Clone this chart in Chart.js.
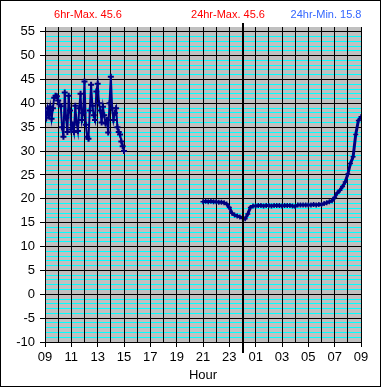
<!DOCTYPE html>
<html>
<head>
<meta charset="utf-8">
<script src="https://cdn.jsdelivr.net/npm/chart.js@4"></script>
<style>
  html, body { margin: 0; padding: 0; background: #fff; }
</style>
</head>
<body>
<canvas id="tempChart" width="385" height="388"></canvas>
<script>
// hours since 09:00
const dayHours = [0.0,0.1,0.2,0.3,0.4,0.5,0.6,0.7,0.8,0.9,1.0,1.1,1.2,1.3,1.4,1.5,1.6,1.7,1.8,1.9,
    2.0,2.1,2.2,2.3,2.4,2.5,2.6,2.7,2.8,2.9,3.0,3.1,3.2,3.3,3.4,3.5,3.6,3.7,3.8,3.9,
    4.0,4.1,4.2,4.3,4.4,4.5,4.6,4.7,4.8,4.9,5.0,5.1,5.2,5.3,5.4,5.5,5.6,5.7,5.8,5.9,6.0];
const dayTemps = [38.2,37.0,39.0,37.5,39.3,36.8,39.0,41.2,41.6,41.5,
    40.6,39.8,39.4,35.0,33.0,42.3,37.0,34.0,41.6,38.5,
    34.5,35.5,34.0,39.5,36.0,34.2,39.0,42.0,36.5,38.0,
    44.6,35.5,33.0,32.6,38.5,43.9,39.5,37.5,36.5,42.5,
    44.1,40.0,38.5,36.0,39.3,37.5,35.8,36.5,33.9,40.0,
    45.6,39.0,36.5,38.0,39.0,35.0,34.0,33.5,32.0,31.0,
    30.0];
const nightHours = [12.0,12.2,12.4,12.6,12.8,13.0,13.2,13.4,13.6,13.8,
    14.0,14.2,14.4,14.6,14.8,15.0,15.2,15.4,15.6,15.8,
    16.0,16.2,16.4,16.6,16.8,17.0,17.2,17.4,17.6,17.8,
    18.0,18.2,18.4,18.6,18.8,19.0,19.2,19.4,19.6,19.8,
    20.0,20.2,20.4,20.6,20.8,21.0,21.2,21.4,21.6,21.8,
    22.0,22.2,22.4,22.6,22.8,23.0,23.2,23.4,23.6,23.8,24.0];
const nightTemps = [19.4,19.5,19.4,19.5,19.4,19.4,19.3,19.3,19.2,18.9,
    18.2,17.0,16.6,16.4,16.2,16.0,15.8,16.8,18.2,18.5,
    18.5,18.6,18.6,18.5,18.6,18.6,18.5,18.6,18.6,18.6,
    18.5,18.6,18.6,18.6,18.5,18.4,18.7,18.7,18.7,18.7,
    18.7,18.7,18.8,18.7,18.8,18.8,19.0,19.2,19.4,19.6,
    20.3,21.2,21.8,22.6,23.5,25.2,27.4,28.8,33.5,36.4,
    37.2];
const hourLabels = ['09','10','11','12','13','14','15','16','17','18','19','20','21',
    '22','23','00','01','02','03','04','05','06','07','08','09'];
const summaryTexts = ['6hr-Max. 45.6', '24hr-Max. 45.6', '24hr-Min. 15.8'];

function toPoints(xs, ys) {
    return xs.map(function(x, i) { return { x: x, y: ys[i] }; });
}

const plotBackground = {
    id: 'plotBackground',
    beforeDraw: function(chart) {
        const a = chart.chartArea;
        const ctx = chart.ctx;
        ctx.save();
        ctx.fillStyle = '#c0c0c0';
        ctx.fillRect(a.left, a.top, a.right - a.left, a.bottom - a.top);
        ctx.restore();
    }
};

const extras = {
    id: 'extras',
    afterDatasetsDraw: function(chart) {
        const ctx = chart.ctx;
        const a = chart.chartArea;
        const mx = Math.round(chart.scales.x.getPixelForValue(15));
        ctx.save();
        ctx.fillStyle = '#000';
        ctx.fillRect(mx - 1, a.top - 4, 2, a.bottom - a.top + 15);
        ctx.restore();
    },
    afterDraw: function(chart) {
        const ctx = chart.ctx;
        ctx.save();
        ctx.font = '11px "Liberation Sans", Arial, sans-serif';
        ctx.textAlign = 'center';
        ctx.textBaseline = 'middle';
        const xs = [88, 228, 326];
        const colors = ['#ff0000', '#ff0000', '#3366ff'];
        summaryTexts.forEach(function(t, i) {
            ctx.fillStyle = colors[i];
            ctx.fillText(t, xs[i], 15);
        });
        ctx.strokeStyle = '#000';
        ctx.lineWidth = 1;
        ctx.strokeRect(0.5, 0.5, 380, 386);
        ctx.restore();
    }
};

const axisFont = { family: '"Liberation Sans", Arial, sans-serif', size: 13 };

const tempChart = new Chart(document.getElementById('tempChart'), {
    type: 'line',
    data: {
        datasets: [{
            data: toPoints(dayHours, dayTemps),
            borderColor: '#000080',
            borderWidth: 2,
            pointStyle: 'cross',
            pointRadius: 3,
            pointBorderColor: '#000080',
            pointBorderWidth: 2,
            tension: 0
        }, {
            data: toPoints(nightHours, nightTemps),
            borderColor: '#000080',
            borderWidth: 3,
            pointStyle: 'cross',
            pointRadius: 2.5,
            pointBorderColor: '#000080',
            pointBorderWidth: 1.5,
            tension: 0
        }]
    },
    options: {
        responsive: false,
        animation: false,
        layout: { padding: { top: 27, right: 24, left: 0, bottom: 0 } },
        plugins: { legend: { display: false }, tooltip: { enabled: false } },
        scales: {
            x: {
                type: 'linear',
                min: 0,
                max: 24,
                afterFit: function(scale) { scale.height = 46; },
                ticks: {
                    stepSize: 1,
                    autoSkip: false,
                    maxRotation: 0,
                    padding: 3,
                    color: '#000',
                    font: axisFont,
                    callback: function(v) { return v % 2 === 0 ? hourLabels[v] : ''; }
                },
                grid: {
                    z: -1,
                    color: '#000',
                    lineWidth: 1,
                    tickLength: 5,
                    tickColor: function(c) { return c.tick && c.tick.value % 2 === 0 ? '#000' : 'rgba(0,0,0,0)'; }
                },
                border: { color: '#000' },
                title: {
                    display: true,
                    text: 'Hour',
                    color: '#000',
                    font: axisFont,
                    padding: { top: 0, bottom: 5 }
                }
            },
            y: {
                min: -10,
                max: 56,
                afterFit: function(scale) { scale.width = 45; },
                ticks: {
                    stepSize: 1,
                    autoSkip: false,
                    padding: 5,
                    color: '#000',
                    font: axisFont,
                    callback: function(v) { return v % 5 === 0 ? String(v) : ''; }
                },
                grid: {
                    z: -2,
                    lineWidth: 1,
                    tickLength: 5,
                    color: function(c) {
                        const v = c.tick && c.tick.value;
                        if (v === 56) return 'rgba(0,0,0,0)';
                        return v % 5 === 0 ? '#000' : '#00ffff';
                    },
                    tickColor: function(c) { return c.tick && c.tick.value % 5 === 0 && c.tick.value !== 56 ? '#000' : 'rgba(0,0,0,0)'; }
                },
                border: { color: '#000' }
            }
        }
    },
    plugins: [plotBackground, extras]
});
</script>
</body>
</html>
